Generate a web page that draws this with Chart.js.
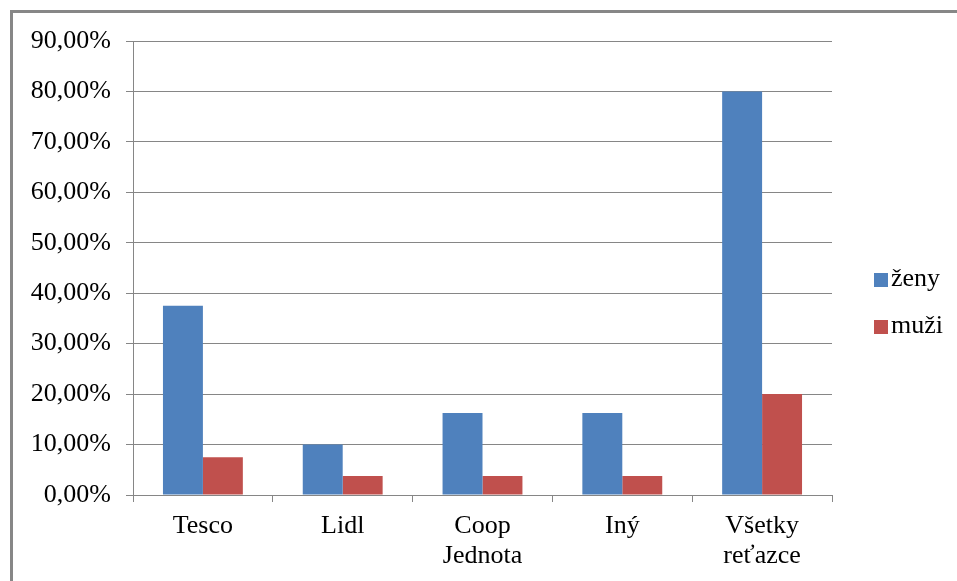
<!DOCTYPE html>
<html>
<head>
<meta charset="utf-8">
<script src="https://cdn.jsdelivr.net/npm/chart.js@4.4.1/dist/chart.umd.min.js"></script>
<style>
  html, body { margin: 0; padding: 0; background: #fff; overflow: hidden; }
  #wrap { position: relative; width: 957px; height: 581px; }
  #frame { position: absolute; left: 10px; top: 10px; width: 1000px; height: 1000px; border: 3px solid #878787; }
  #chart { position: absolute; left: 0; top: 0; }
  #legend { position: absolute; left: 874px; top: 254px; font-family: "Liberation Serif", serif; font-size: 26px; color: #000; }
  .item { display: flex; align-items: center; height: 47px; }
  .box { width: 14px; height: 14px; margin-right: 3px; margin-top: 4px; }
</style>
</head>
<body>
<div id="wrap">
  <div id="frame"></div>
  <canvas id="chart" width="957" height="581"></canvas>
  <div id="legend"></div>
</div>
<script>
// data (percent)
const categories = ['Tesco', 'Lidl', ['Coop', 'Jednota'], 'Iný', ['Všetky', 'reťazce']];
const zeny = [37.5, 10, 16.25, 16.25, 80];
const muzi = [7.5, 3.75, 3.75, 3.75, 20];
const seriesNames = ['ženy', 'muži'];
const seriesColors = ['#4F81BD', '#C0504D'];
const yMax = 90;
const yStep = 10;

const font = { family: '"Liberation Serif", "Times New Roman", serif', size: 26, lineHeight: 30 / 26 };
const gridColor = '#868686';

const ctx = document.getElementById('chart').getContext('2d');
const myChart = new Chart(ctx, {
    type: 'bar',
    data: {
        labels: categories,
        datasets: [{
            label: seriesNames[0],
            data: zeny,
            backgroundColor: seriesColors[0],
            categoryPercentage: 80 / 140,
            barPercentage: 1
        }, {
            label: seriesNames[1],
            data: muzi,
            backgroundColor: seriesColors[1],
            categoryPercentage: 80 / 140,
            barPercentage: 1
        }]
    },
    options: {
        responsive: false,
        animation: false,
        layout: { padding: { left: 0, top: 41, right: 125, bottom: 0 } },
        plugins: {
            legend: { display: false }, // legend is html below
            tooltip: { enabled: false }
        },
        scales: {
            x: {
                afterFit: (s) => { s.height = 86; },
                grid: {
                    offset: true,
                    drawOnChartArea: false,
                    color: gridColor,
                    tickLength: 7
                },
                border: { color: gridColor },
                ticks: { color: '#000', font: font, padding: 9, maxRotation: 0 }
            },
            y: {
                min: 0,
                max: yMax,
                afterFit: (s) => { s.width = 133; },
                grid: { color: gridColor, tickLength: 7 },
                border: { color: gridColor },
                ticks: {
                    stepSize: yStep,
                    color: '#000',
                    font: font,
                    padding: 15,
                    callback: (v) => v.toFixed(2).replace('.', ',') + '%'
                }
            }
        }
    }
});

// html legend built from datasets
const legendEl = document.getElementById('legend');
myChart.data.datasets.forEach((ds) => {
    const item = document.createElement('div');
    item.className = 'item';
    const box = document.createElement('div');
    box.className = 'box';
    box.style.backgroundColor = ds.backgroundColor;
    const txt = document.createElement('span');
    txt.textContent = ds.label;
    item.appendChild(box);
    item.appendChild(txt);
    legendEl.appendChild(item);
});
</script>
</body>
</html>
